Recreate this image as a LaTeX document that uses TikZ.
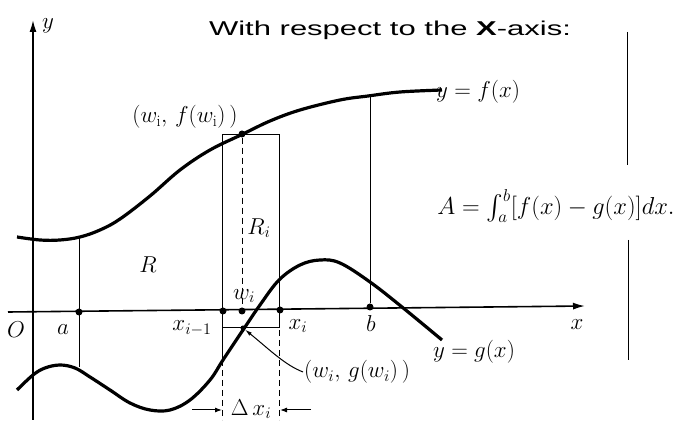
\RequirePackage{fix-cm}
\documentclass[tikz,border=0pt]{standalone}
\usepackage{amsmath}
\usepackage{fontspec}
\newfontfamily\handfont{Liberation Sans}
\usetikzlibrary{arrows.meta}
\begin{document}
\begin{tikzpicture}[x=1pt,y=-1pt,
  axis/.style={line width=1.6pt,-{Latex[length=12pt,width=7pt]}},
  curve/.style={line width=3.2pt},
  thin/.style={line width=1pt},
  dashln/.style={line width=1pt,dash pattern=on 6pt off 4pt},
  dot/.style={circle,fill,inner sep=0pt,minimum size=7pt},
  lbl/.style={font=\fontsize{23}{27}\selectfont,inner sep=1pt}]
\useasboundingbox (0,0) rectangle (681,427);
% axes
\coordinate (xs) at (8,312);
\coordinate (xe) at (585,306);
\coordinate (ys) at (33,420);
\coordinate (ye) at (33,20);
\draw[axis] (xs) -- (xe);
\draw[axis] (ys) -- (ye);
\node[lbl] (ylab) at (48,26) {$y$};
\node[lbl] (xlab) at (577,325) {$x$};
\node[lbl] (O) at (16,330) {$O$};
% points on x axis
\node[dot] (pa) at (79,312) {};
\node[dot] (pxim) at (223,311) {};
\node[dot] (pw) at (242,311) {};
\node[dot] (pxi) at (280,310) {};
\node[dot] (pb) at (370,307) {};
\node[lbl] (la) at (63,330) {$a$};
\node[lbl] (lb) at (371,324) {$b$};
\node[lbl] (lxim) at (192,328) {$x_{i-1}$};
\node[lbl] (lxi) at (298,326) {$x_i$};
\node[lbl] (lw) at (244,296) {$w_i$};
% curve f
\draw[curve] plot[smooth,tension=0.6] coordinates {(17,237) (40,240) (60,240) (80,237) (100,230) (120,219) (150,196) (180,170) (210,150) (243,134) (270,121) (300,110) (340,100) (368,96) (400,92) (442,90)};
% curve g
\draw[curve] plot[smooth,tension=0.6] coordinates {(17,390) (33,375) (45,368) (60,365) (75,368) (90,377) (110,390) (130,403) (150,410) (170,410) (190,400) (210,380) (223,360) (243,330) (260,305) (279,280) (300,265) (320,260) (340,263) (370,282) (402,307) (442,340)};
% verticals at a and b
\coordinate (fa) at (79,238);
\coordinate (ga) at (79,367);
\draw[thin] (fa) -- (ga);
\coordinate (fb) at (370,96);
\draw[thin] (fb) -- (pb);
% rectangle
\coordinate (r1) at (222,135);
\coordinate (r2) at (279,328);
\draw[thin] (r1) rectangle (r2);
\coordinate (gl) at (222,360);
\draw[thin] (222,328) -- (gl);
\draw[dashln] (gl) -- (222,420);
\draw[dashln] (279,330) -- (279,420);
\node[dot] (pf) at (242,134) {};
\draw[dashln] (pf) -- (pw);
\node[dot,minimum size=5pt] (pg) at (243,328) {};
% Delta x arrows
\node[lbl] (dx) at (251,409) {$\Delta\, x_i$};
\coordinate (dl) at (192,410);
\coordinate (dr) at (311,410);
\draw[thin,-{Latex[length=7pt,width=5pt]}] (dl) -- (222,410);
\draw[thin,-{Latex[length=7pt,width=5pt]}] (dr) -- (280,410);
% labels
\node[lbl] (lfw) at (185,117) {$(w_{\mathrm{i}},\, f(w_{\mathrm{i}})\,)$};
\node[lbl] (lRi) at (259,228) {$R_i$};
\node[lbl] (lR) at (148,265) {$R$};
\node[lbl,anchor=west,inner sep=0pt] (lf) at (436,92) {$y=f(x)$};
\node[lbl] (lg) at (474,352) {$y=g(x)$};
\node[lbl,anchor=west] (lgw) at (303,372) {$(w_i,\, g(w_i)\,)$};
\draw[thin,-{Latex[length=7pt,width=4pt]}] (lgw.west) .. controls (285,365) and (270,350) .. (pg);
% formula
\node[font=\fontsize{24.5}{29}\selectfont] (formula) at (556,206) {$A=\int_a^b[f(x)-g(x)]dx.$};
% handwritten title
\node[font=\handfont\fontsize{20}{24}\selectfont,xscale=1.55] (title) at (390,30) {With respect to the \textbf{X}-axis:};
% right thin lines
\coordinate (v1a) at (627,32);
\coordinate (v1b) at (627,165);
\coordinate (v2a) at (628,240);
\coordinate (v2b) at (628,360);
\draw[line width=0.6pt] (v1a) -- (v1b);
\draw[line width=0.6pt] (v2a) -- (v2b);
\end{tikzpicture}
\end{document}
